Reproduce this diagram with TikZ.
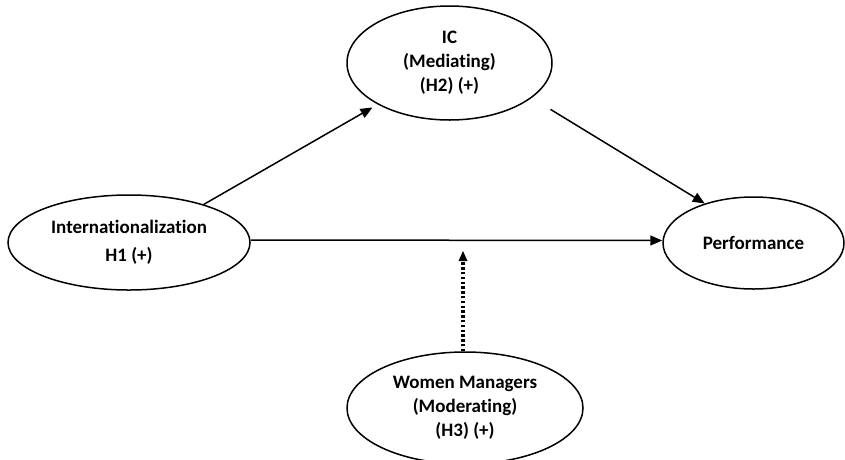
\documentclass[tikz,border=0pt]{standalone}
\usepackage{fontspec}
\setmainfont{Carlito}[Ligatures=NoCommon]
\usetikzlibrary{shapes.geometric,arrows.meta}

\begin{document}
\begin{tikzpicture}[x=1pt,y=-1pt,font=\bfseries\fontsize{19}{24}\selectfont,
  var/.style={draw,ellipse,line width=1.5pt,inner sep=0pt,align=center},
  link/.style={line width=1.5pt,-{Triangle[length=12pt,width=10pt]}},
  moder/.style={line width=3.2pt,dash pattern=on 2.4pt off 2.4pt,
    -{Triangle[length=10pt,width=9pt,line width=0pt]}}]
  \useasboundingbox (0,0) rectangle (845,459);

  %% Constructs
  \node[var, minimum width=205pt, minimum height=114pt] (ic)   at (449.5,63)  {IC\\(Mediating)\\(H2) (+)};
  \node[var, minimum width=242pt, minimum height=95pt]  (int)  at (129,242.5) {Internationalization\\[4pt]H1 (+)};
  \node[var, minimum width=181pt, minimum height=92pt]  (perf) at (753.5,243) {Performance};
  \node[var, minimum width=236pt, minimum height=112pt] (wom)  at (465,408)   {Women Managers\\(Moderating)\\(H3) (+)};

  %% Paths
  \draw[link, shorten >=6pt] (int.27) -- (ic.210);
  \draw[link, shorten <=22pt] (ic.-23) -- (perf.141);
  \draw[link] ([yshift=2.5pt]int.east) -- ([yshift=2.5pt]perf.west);

  %% Moderating effect
  \coordinate (mod) at (463,251);
  \draw[moder] (wom.north -| mod) -- (mod);
\end{tikzpicture}
\end{document}
